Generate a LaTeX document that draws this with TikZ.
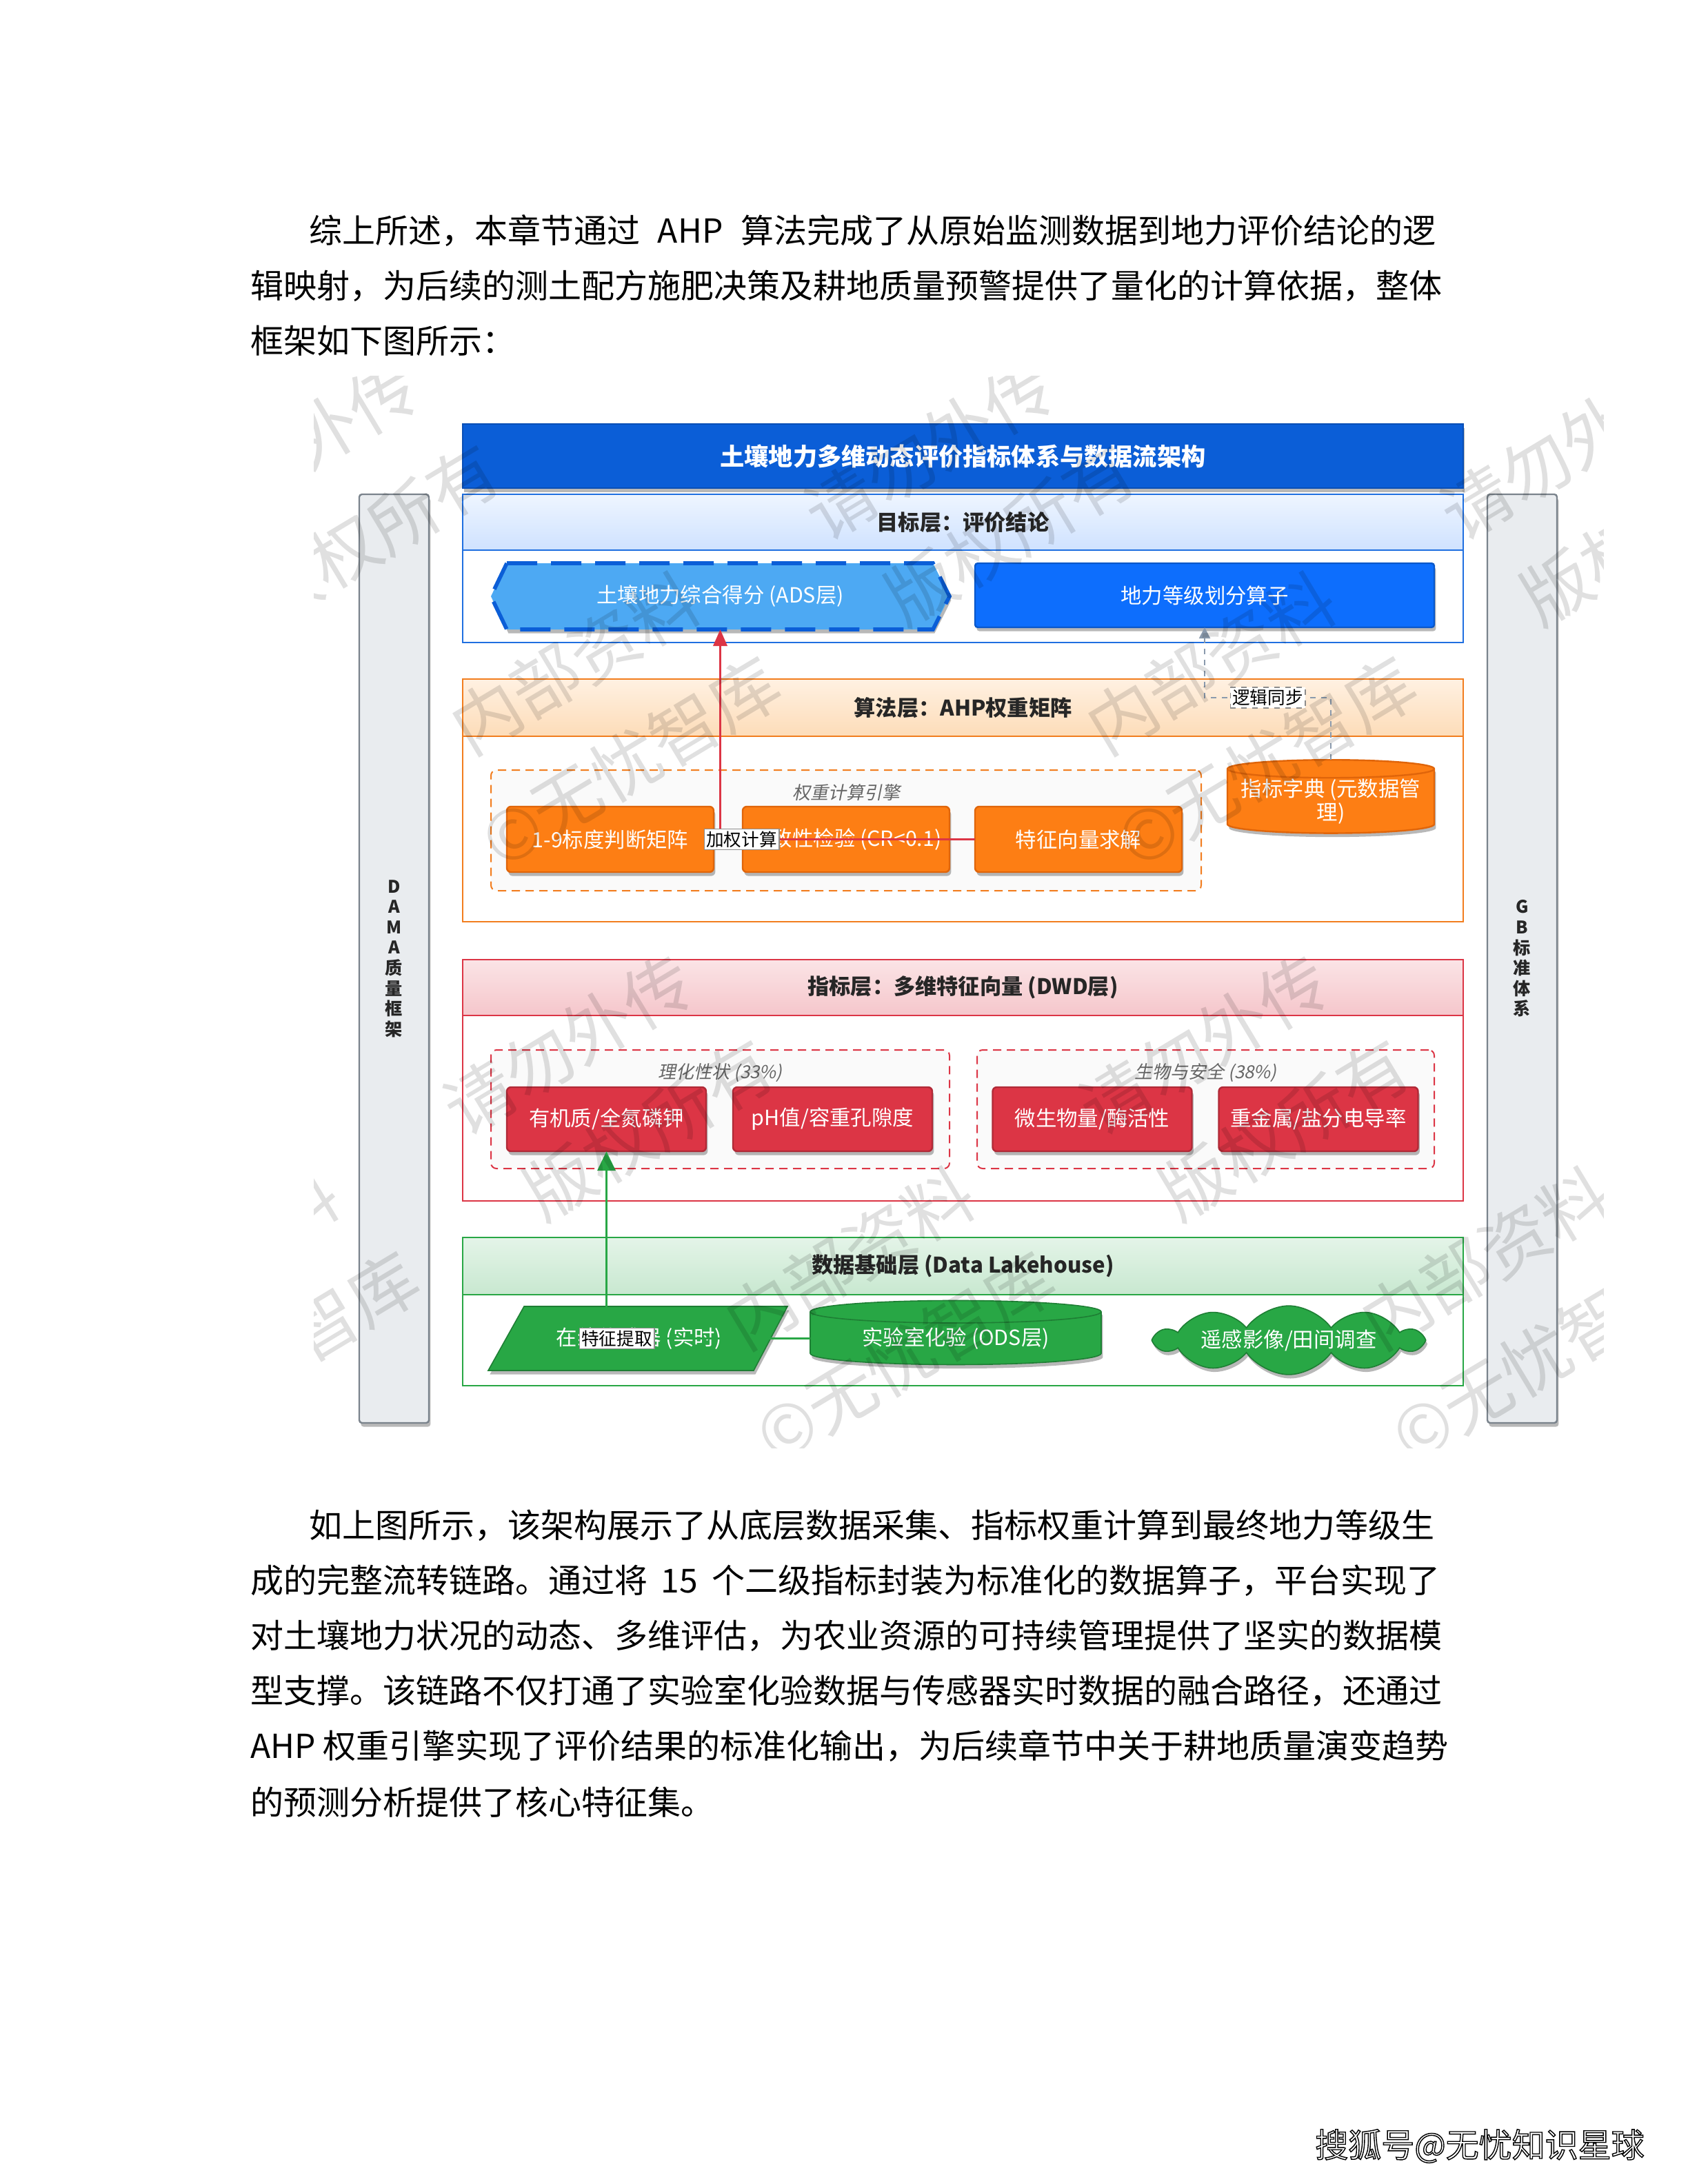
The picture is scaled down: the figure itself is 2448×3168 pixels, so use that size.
\documentclass[tikz,border=0pt]{standalone}
\usepackage{fontspec}
\setmainfont{Noto Sans CJK SC}
\newfontfamily\cjkit[FakeSlant=0.2]{Noto Sans CJK SC}
\usetikzlibrary{shapes.geometric,shapes.symbols,shadows,arrows.meta}
\definecolor{hdrblue}{HTML}{0B5ED7}
\definecolor{hdrblueD}{HTML}{0A4FB5}
\definecolor{tblue}{HTML}{1F6FE0}
\definecolor{tbandT}{HTML}{EEF5FF}
\definecolor{tbandB}{HTML}{CFE2FF}
\definecolor{adsfill}{HTML}{4DA9F3}
\definecolor{adsdash}{HTML}{0B5ED7}
\definecolor{rankfill}{HTML}{0D6EFD}
\definecolor{rankD}{HTML}{0A58CA}
\definecolor{orgB}{HTML}{F27D1E}
\definecolor{orgfill}{HTML}{FD7E14}
\definecolor{orgD}{HTML}{E0650A}
\definecolor{obandT}{HTML}{FFF1E2}
\definecolor{obandB}{HTML}{FDDCB8}
\definecolor{redB}{HTML}{DC3545}
\definecolor{redfill}{HTML}{DC3545}
\definecolor{redD}{HTML}{B02A37}
\definecolor{rbandT}{HTML}{FBE4E6}
\definecolor{rbandB}{HTML}{F5C6CB}
\definecolor{grnB}{HTML}{28A745}
\definecolor{grnfill}{HTML}{28A745}
\definecolor{grnD}{HTML}{1E7E34}
\definecolor{gbandT}{HTML}{E4F4E8}
\definecolor{gbandB}{HTML}{C8E8D0}
\definecolor{sidefill}{HTML}{E9ECEF}
\definecolor{sidebd}{HTML}{7A838C}
\definecolor{grpfill}{HTML}{FAFAFA}
\definecolor{syncgray}{HTML}{8A9AAD}
\newcommand\ndfont{\fontsize{7.6}{9}\selectfont}
\newcommand\lyfont{\bfseries\fontsize{7.8}{9}\selectfont}
\newcommand\grfont{\cjkit\fontsize{6.5}{8}\selectfont}
\newcommand\outlinetxt[1]{\special{pdf:literal direct 2 Tr 0.35 w 0 G}#1\special{pdf:literal direct 0 Tr}}
\tikzset{
  every node/.style={inner sep=0pt, outer sep=0pt},
  bodytxt/.style={anchor=west, font=\fontsize{12}{14}\selectfont},
  myshadow/.style={drop shadow={shadow xshift=0.6pt, shadow yshift=-1.4pt, opacity=0.28, fill=black}},
  layerbox/.style={draw=#1, line width=0.7pt, fill=white, minimum width=362.75pt},
  band/.style 2 args={draw=#1, line width=0.7pt, shading=axis, top color=#2T, bottom color=#2B,
      minimum width=362.75pt, font=\lyfont, text=black!85},
  grp/.style={draw=#1, dash pattern=on 3pt off 2pt, line width=0.5pt, fill=grpfill, rounded corners=2pt},
  grplabel/.style={font=\grfont, text=black!60},
  obox/.style={draw=orgD, fill=orgfill, line width=0.6pt, rounded corners=1.5pt,
      minimum width=75pt, minimum height=23.75pt, text=white, font=\ndfont, myshadow},
  rbox/.style={draw=redD, fill=redfill, line width=0.6pt, rounded corners=1.5pt,
      minimum width=72.25pt, minimum height=23.25pt, text=white, font=\ndfont, myshadow},
  sidebar/.style={draw=sidebd, fill=sidefill, line width=0.6pt, rounded corners=1pt,
      minimum width=25.25pt, minimum height=336.75pt, align=center,
      font=\bfseries\fontsize{6.3}{7.4}\selectfont, text=black!85, myshadow},
  lbl/.style={fill=white, draw=black!45, line width=0.3pt, inner sep=0.8pt, text=black,
      font=\fontsize{6.4}{7}\selectfont},
  wm/.style={font=\fontsize{25}{30}\selectfont, text=black, text opacity=0.12, rotate=31, anchor=base west}
}
\begin{document}
\begin{tikzpicture}[x=0.25pt,y=-0.25pt]
\fill[white] (0,0) rectangle (2448,3168);
\useasboundingbox (0,0) rectangle (2448,3168);

% ---------- upper paragraph ----------
\node[bodytxt] (p1a) at (448,335) {综上所述，本章节通过\hspace{6.5pt}AHP\hspace{6.5pt}算法完成了从原始监测数据到地力评价结论的逻};
\node[bodytxt] (p1b) at (363,415) {辑映射，为后续的测土配方施肥决策及耕地质量预警提供了量化的计算依据，整体};
\node[bodytxt] (p1c) at (363,494) {框架如下图所示：};

% ---------- side bars ----------
\node[sidebar] (dama) at (571.5,1390.5) {D\\A\\M\\A\\质\\量\\框\\架};
\node[sidebar] (gb) at (2207.5,1390.5) {G\\B\\标\\准\\体\\系};

% ---------- title ----------
\node[draw=hdrblueD, fill=hdrblue, line width=0.6pt, minimum width=362.75pt, minimum height=23.25pt,
      text=white, font=\bfseries\fontsize{8.8}{10}\selectfont, myshadow] (title) at (1396.5,661.5)
      {土壤地力多维动态评价指标体系与数据流架构};

% ---------- target layer ----------
\node[layerbox=tblue, minimum height=53.75pt] (tgt) at (1396.5,824.5) {};
\node[band={tblue}{tband}, minimum height=20.25pt] (tgtband) at (1396.5,757.5) {目标层：评价结论};
\fill[adsfill, myshadow] (735,817) -- (1353,817) -- (1377,865) -- (1353,913) -- (735,913) -- (712,865) -- cycle;
\draw[adsdash, line width=1.4pt, dash pattern=on 11pt off 5pt]
  (735,817) -- (1353,817) -- (1377,865) -- (1353,913) -- (735,913) -- (712,865) -- cycle;
\node[minimum width=166.25pt, minimum height=24pt, text=white, font=\ndfont] (ads) at (1044.5,865)
  {土壤地力综合得分 (ADS层)};
\node[draw=rankD, fill=rankfill, line width=0.6pt, rounded corners=1pt, minimum width=166.5pt,
      minimum height=23.25pt, text=white, font=\ndfont, myshadow] (rank) at (1747,863.5) {地力等级划分算子};

% ---------- algorithm layer ----------
\node[layerbox=orgB, minimum height=88pt] (alg) at (1396.5,1161) {};
\node[band={orgB}{oband}, minimum height=20.75pt] (algband) at (1396.5,1026.5) {算法层：AHP权重矩阵};
\node[grp=orgB, minimum width=257.5pt, minimum height=43.75pt] (engine) at (1227,1204.5) {};
\node[grplabel] (englbl) at (1227,1150) {权重计算引擎};
\node[obox] (o1) at (885,1217.5) {1-9标度判断矩阵};
\node[obox] (o2) at (1227,1217.5) {一致性检验 (CR<0.1)};
\node[obox] (o3) at (1564,1217.5) {特征向量求解};
\node[cylinder, shape border rotate=90, aspect=0.1, draw=orgD, fill=orgfill, line width=0.6pt,
      minimum width=75pt, minimum height=22.75pt, text=white, font=\fontsize{7.6}{8.6}\selectfont,
      align=center, myshadow]
      (dict) at (1930,1162.5) {指标字典 (元数据管\\理)};

% ---------- indicator layer ----------
\node[layerbox=redB, minimum height=87.5pt] (ind) at (1396.5,1567) {};
\node[band={redB}{rband}, minimum height=20.25pt] (indband) at (1396.5,1432.5) {指标层：多维特征向量 (DWD层)};
\node[grp=redB, minimum width=166.25pt, minimum height=43pt] (g1) at (1044.5,1609) {};
\node[grplabel] (g1lbl) at (1044.5,1556) {理化性状 (33\%)};
\node[grp=redB, minimum width=165.75pt, minimum height=43pt] (g2) at (1748.5,1609) {};
\node[grplabel] (g2lbl) at (1748.5,1556) {生物与安全 (38\%)};
\node[rbox] (r1) at (879.5,1623.5) {有机质/全氮磷钾};
\node[rbox] (r2) at (1207.5,1623.5) {pH值/容重孔隙度};
\node[rbox] (r3) at (1584,1623.5) {微生物量/酶活性};
\node[rbox] (r4) at (1912,1623.5) {重金属/盐分电导率};

% ---------- data layer ----------
\node[layerbox=grnB, minimum height=53.75pt] (dat) at (1396.5,1902.5) {};
\node[band={grnB}{gband}, minimum height=20.75pt] (datband) at (1396.5,1836.5) {数据基础层 (Data Lakehouse)};
\filldraw[fill=grnfill, draw=grnD, line width=0.4pt, myshadow]
  (760,1895) -- (1142,1895) -- (1093,1988) -- (708,1988) -- cycle;
\node[text=white, font=\ndfont] (sensor) at (927,1942) {在线传感器 (实时)};
\node[cylinder, shape border rotate=90, aspect=0.12, draw=grnD, fill=grnfill, line width=0.4pt,
      minimum width=105.5pt, minimum height=23.25pt, text=white, font=\ndfont, myshadow]
      (ods) at (1386,1941.5) {实验室化验 (ODS层)};
\node[cloud, cloud puffs=10, cloud puff arc=110, cloud ignores aspect, draw=grnD, fill=grnfill,
      line width=0.4pt, minimum width=96pt, minimum height=20pt, text=white, font=\ndfont, myshadow]
      (rs) at (1869,1944) {遥感影像/田间调查};

% ---------- connectors ----------
\draw[redB, line width=0.9pt, -{Triangle[length=6pt,width=5pt]}]
  (o3.west) -| node[pos=0.5, xshift=7.75pt, lbl] (wlab) {加权计算} (ads.south);
\coordinate (syncpt) at (1747,1012);
\draw[syncgray, line width=0.5pt, dash pattern=on 2pt off 2pt, -{Triangle[length=4pt,width=4pt]}]
  (dict.top) |- node[pos=0.75, lbl] (slab) {逻辑同步} (syncpt) -- (rank.south);
\draw[grnB, line width=0.8pt, -{Triangle[length=7pt,width=6.5pt]}]
  (ods.west) -| node[pos=0.5, xshift=3.75pt, lbl] (flab) {特征提取} (r1.south);

% ---------- tiled watermark, clipped to the embedded figure ----------
\begin{scope}
\clip (455,545) rectangle (2325,2100);
\foreach \i in {-2,...,2} {
  \foreach \j in {-1,0,1} {
    \path (682+922*\i+398*\j, 1097+863*\j) node[wm] (wa\i\j) {内部资料　　请勿外传}
          ++(45,165) node[wm] (wb\i\j) {©无忧智库　　版权所有};
  }
}
\end{scope}

% ---------- lower paragraph ----------
\node[bodytxt] (p2a) at (448,2213) {如上图所示，该架构展示了从底层数据采集、指标权重计算到最终地力等级生};
\node[bodytxt] (p2b) at (363,2293) {成的完整流转链路。通过将\hspace{5pt}15\hspace{5pt}个二级指标封装为标准化的数据算子，平台实现了};
\node[bodytxt] (p2c) at (363,2373) {对土壤地力状况的动态、多维评估，为农业资源的可持续管理提供了坚实的数据模};
\node[bodytxt] (p2d) at (363,2453) {型支撑。该链路不仅打通了实验室化验数据与传感器实时数据的融合路径，还通过};
\node[bodytxt] (p2e) at (363,2533) {AHP 权重引擎实现了评价结果的标准化输出，为后续章节中关于耕地质量演变趋势};
\node[bodytxt] (p2f) at (363,2614) {的预测分析提供了核心特征集。};

% ---------- signature ----------
\node[text=white, font=\fontsize{12}{14}\selectfont] (sig) at (2146,3113) {\outlinetxt{搜狐号@无忧知识星球}};
\end{tikzpicture}
\end{document}
